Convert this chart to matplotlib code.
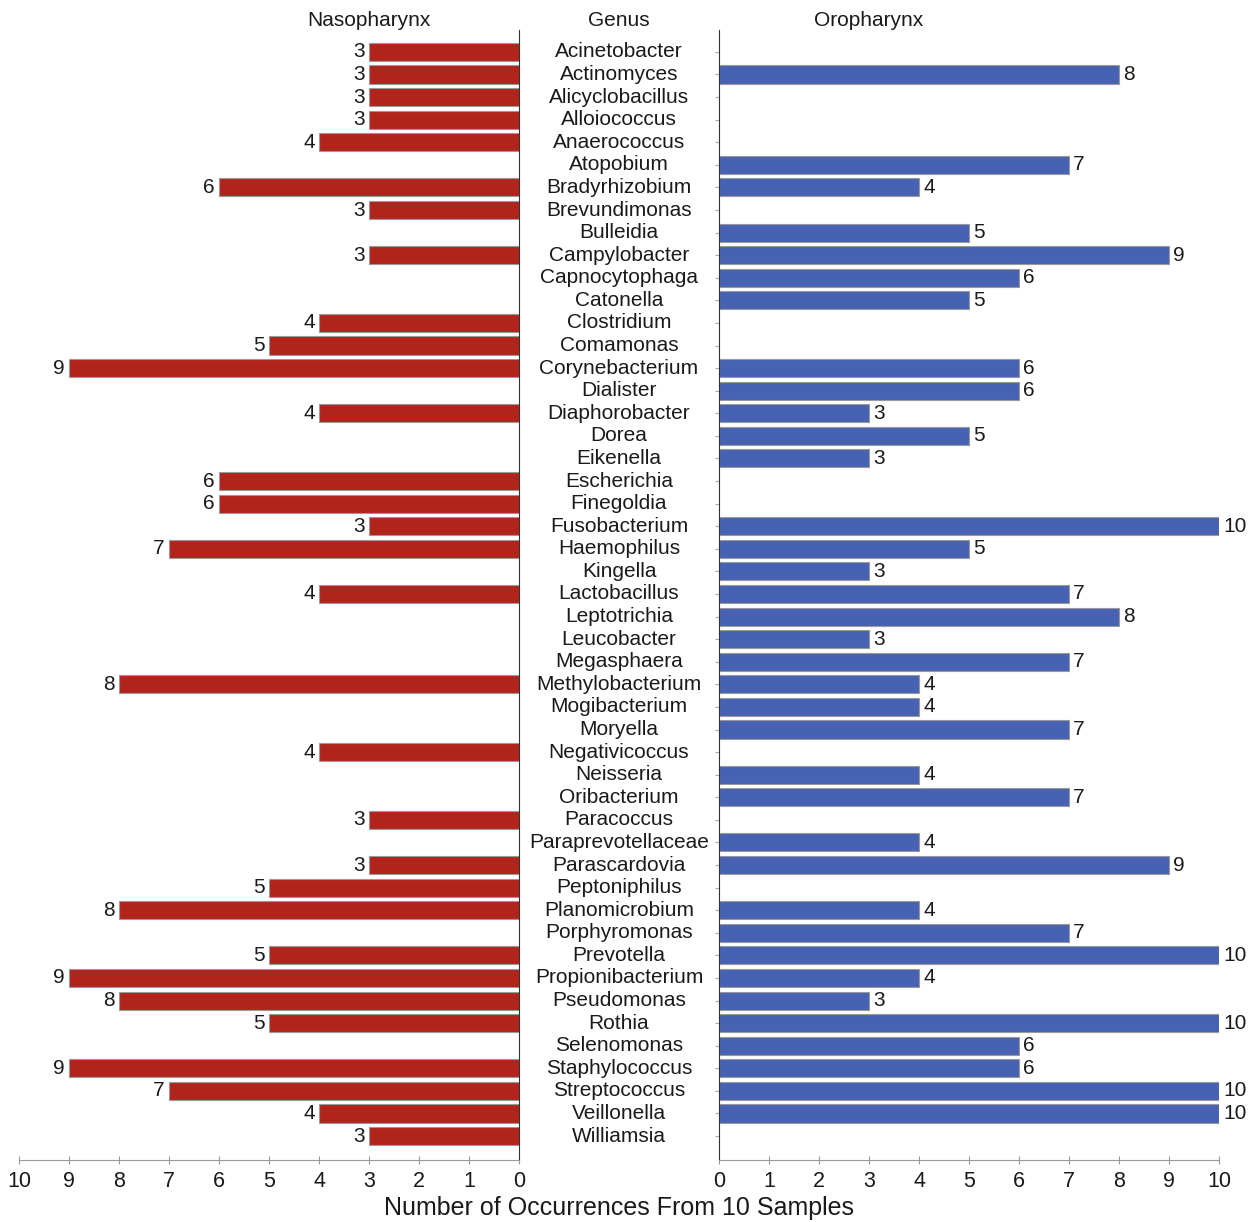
import matplotlib
matplotlib.use("Agg")

import numpy as np
import matplotlib.pyplot as plt

plt.rcParams["font.family"] = ["Liberation Sans", "DejaVu Sans"]

genera = ["Acinetobacter", "Actinomyces", "Alicyclobacillus", "Alloiococcus", "Anaerococcus",
          "Atopobium", "Bradyrhizobium", "Brevundimonas", "Bulleidia", "Campylobacter",
          "Capnocytophaga", "Catonella", "Clostridium", "Comamonas", "Corynebacterium",
          "Dialister", "Diaphorobacter", "Dorea", "Eikenella", "Escherichia",
          "Finegoldia", "Fusobacterium", "Haemophilus", "Kingella", "Lactobacillus",
          "Leptotrichia", "Leucobacter", "Megasphaera", "Methylobacterium", "Mogibacterium",
          "Moryella", "Negativicoccus", "Neisseria", "Oribacterium", "Paracoccus",
          "Paraprevotellaceae", "Parascardovia", "Peptoniphilus", "Planomicrobium", "Porphyromonas",
          "Prevotella", "Propionibacterium", "Pseudomonas", "Rothia", "Selenomonas",
          "Staphylococcus", "Streptococcus", "Veillonella", "Williamsia"]

# 0 = genus not found at that site
nasopharynx = [3, 3, 3, 3, 4, 0, 6, 3, 0, 3,
               0, 0, 4, 5, 9, 0, 4, 0, 0, 6,
               6, 3, 7, 0, 4, 0, 0, 0, 8, 0,
               0, 4, 0, 0, 3, 0, 3, 5, 8, 0,
               5, 9, 8, 5, 0, 9, 7, 4, 3]
oropharynx = [0, 8, 0, 0, 0, 7, 4, 0, 5, 9,
              6, 5, 0, 0, 6, 6, 3, 5, 3, 0,
              0, 10, 5, 3, 7, 8, 3, 7, 4, 4,
              7, 0, 4, 7, 0, 4, 9, 0, 4, 7,
              10, 4, 3, 10, 6, 6, 10, 10, 0]

W, H = 1255, 1222
fig = plt.figure(figsize=(W / 100, H / 100), dpi=100)

ax_l = fig.add_axes([19 / W, 1 - 1160 / H, 500 / W, 1130 / H])
ax_r = fig.add_axes([719 / W, 1 - 1160 / H, 500 / W, 1130 / H])

y = np.arange(len(genera))
naso = np.array(nasopharynx)
oro = np.array(oropharynx)
red = "#b0241c"
blue = "#4762b3"
txt = "#1a1a1a"

for ax, vals, color, side in [(ax_l, naso, red, "left"), (ax_r, oro, blue, "right")]:
    m = vals > 0
    ax.barh(y[m], vals[m], height=0.8, color=color, edgecolor="#9a9a9a", linewidth=0.8)
    for yi, v in zip(y[m], vals[m]):
        if side == "left":
            ax.annotate(str(v), xy=(v, yi), xytext=(-3, 0), textcoords="offset points",
                        ha="right", va="center", fontsize=15, color=txt)
        else:
            ax.annotate(str(v), xy=(v, yi), xytext=(3, 0), textcoords="offset points",
                        ha="left", va="center", fontsize=15, color=txt)
    ax.set_ylim(len(genera) - 1 + 1.06, -0.97)
    ax.set_xticks(range(0, 11))
    ax.tick_params(axis="x", direction="inout", length=6, color="#999999",
                   labelsize=15.5, pad=5, labelcolor=txt)
    ax.spines["top"].set_visible(False)
    ax.spines["bottom"].set_color("#999999")

ax_l.set_xlim(10, 0)
ax_l.spines["left"].set_visible(False)
ax_l.spines["right"].set_color("#333333")
ax_l.set_yticks([])

ax_r.set_xlim(0, 10)
ax_r.spines["right"].set_visible(False)
ax_r.spines["left"].set_color("#333333")
ax_r.set_yticks(y)
ax_r.set_yticklabels([])
ax_r.tick_params(axis="y", direction="out", length=3, color="#aaaaaa")

# genus names in the middle column
for yi, name in zip(y, genera):
    yp = ax_r.transData.transform((0, yi))[1]
    fig.text(619 / W, yp / H, name, ha="center", va="center", fontsize=15, color=txt)

fig.text(369 / W, 1 - 21 / H, "Nasopharynx", ha="center", va="center", fontsize=15, color=txt)
fig.text(619 / W, 1 - 21 / H, "Genus", ha="center", va="center", fontsize=15, color=txt)
fig.text(869 / W, 1 - 21 / H, "Oropharynx", ha="center", va="center", fontsize=15, color=txt)
fig.text(619 / W, 1 - 1208 / H, "Number of Occurrences From 10 Samples",
         ha="center", va="center", fontsize=18, color=txt)

fig.savefig("out.png", dpi=100)
